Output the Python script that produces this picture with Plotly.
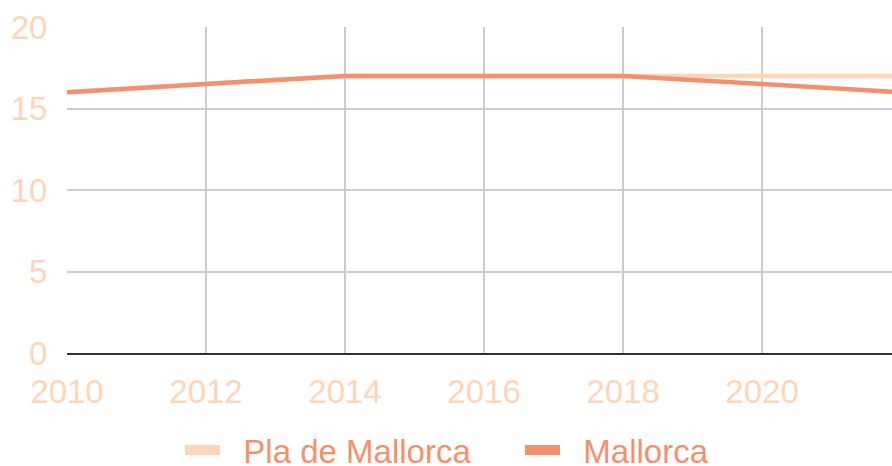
import plotly.graph_objects as go

years = [2010, 2012, 2014, 2016, 2018, 2020, 2022]
pla_de_mallorca = [16, 16.5, 17, 17, 17, 17, 17]
mallorca = [16, 16.5, 17, 17, 17, 16.5, 16]
x_ticks = [2010, 2012, 2014, 2016, 2018, 2020]
y_ticks = [0, 5, 10, 15, 20]

c_pla = "#fdd5b8"
c_mal = "#f58f6c"
tick_col = "#fdd5b8"
font = "Liberation Sans, Arial, sans-serif"
nb = "\u00a0"

fig = go.Figure()
fig.add_trace(go.Scatter(x=years, y=pla_de_mallorca, mode="lines", name="Pla de Mallorca",
                         line=dict(color=c_pla, width=4.5), showlegend=False))
fig.add_trace(go.Scatter(x=years, y=mallorca, mode="lines", name="Mallorca",
                         line=dict(color=c_mal, width=4.5), showlegend=False))
# legend entries
fig.add_trace(go.Scatter(x=[None], y=[None], mode="lines", name=nb * 2 + "Pla de Mallorca",
                         line=dict(color=c_pla, width=10)))
fig.add_trace(go.Scatter(x=[None], y=[None], mode="lines", name=nb * 2 + "Mallorca",
                         line=dict(color=c_mal, width=10)))

fig.update_layout(
    width=892, height=466,
    margin=dict(l=67, r=0, t=27, b=113),
    paper_bgcolor="white", plot_bgcolor="white",
    font=dict(family=font, size=33, color=tick_col),
    xaxis=dict(range=[2010, 2021.87], tickvals=x_ticks, showgrid=True,
               gridcolor="#cccccc", gridwidth=2, zeroline=False,
               showline=True, linecolor="#333333", linewidth=2,
               ticks="outside", ticklen=8, tickcolor="rgba(0,0,0,0)",
               tickfont=dict(size=33, color=tick_col), automargin=False),
    yaxis=dict(range=[0, 20], tickvals=y_ticks, showgrid=True,
               gridcolor="#cccccc", gridwidth=2, zeroline=False, showline=False,
               ticks="outside", ticklen=12, tickcolor="rgba(0,0,0,0)",
               tickfont=dict(size=33, color=tick_col), automargin=False),
    legend=dict(orientation="h", xref="container", yref="container",
                x=0.2018, xanchor="left", y=0.0343, yanchor="middle",
                font=dict(size=33, color=c_mal), itemwidth=35, entrywidth=290),
)

fig.write_html("out.html", config={"displayModeBar": False},
               post_script="document.body.style.margin='0';")
